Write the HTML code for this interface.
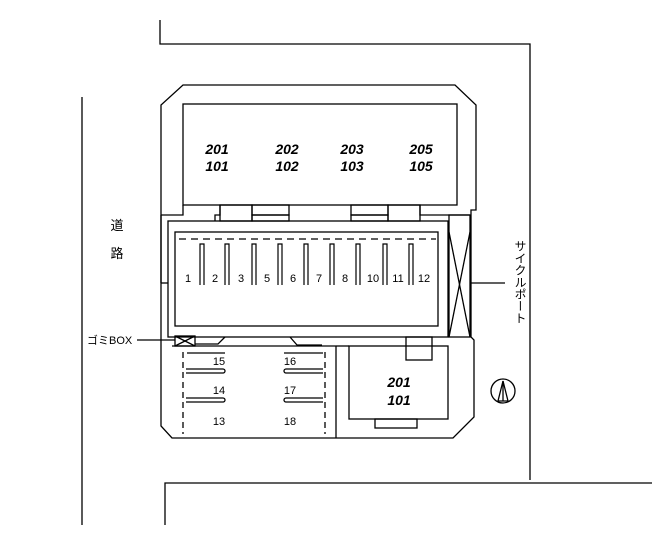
<!DOCTYPE html>
<html><head><meta charset="utf-8"><style>body{margin:0;background:#fff}svg{display:block}</style></head><body>
<svg width="652" height="551" viewBox="0 0 652 551" xmlns="http://www.w3.org/2000/svg" font-family="Liberation Sans, Noto Sans CJK JP, sans-serif">
<g fill="none" stroke="#000" stroke-width="1.3">
<polyline points="160,20 160,44 530,44 530,480"/>
<polyline points="165,525 165,483 652,483"/>
<line x1="82" y1="97" x2="82" y2="525"/>
<polygon points="183,85 455,85 476,105 476,210 471,210 471,337 474,340 474,417 453,438 172,438 161,426 161,105"/>
<rect x="183" y="104" width="274" height="101"/>
<polyline points="183,205 183,215 161,215"/>
<polyline points="220,205 220,215 215,215 215,221"/>
<rect x="220" y="205" width="32" height="16"/>
<rect x="252" y="205" width="37" height="10"/>
<rect x="252" y="215" width="37" height="6"/>
<rect x="351" y="205" width="37" height="10"/>
<rect x="351" y="215" width="37" height="6"/>
<rect x="388" y="205" width="32" height="16"/>
<polyline points="420,205 420,215 470,215"/>
<rect x="168" y="221" width="280" height="116"/>
<rect x="175" y="232" width="263" height="94"/>
<line x1="161" y1="215" x2="161" y2="283"/>
<line x1="161" y1="283" x2="168" y2="283"/>
<rect x="449" y="215" width="21" height="122"/>
<line x1="449" y1="232" x2="470" y2="337"/><line x1="470" y1="232" x2="449" y2="337"/>
<line x1="470" y1="283" x2="505" y2="283"/>
<line x1="179" y1="239" x2="436" y2="239" stroke-dasharray="7,5"/>
<g stroke-width="1.2">
<path d="M200,285 V244 H204 V285"/><path d="M225,285 V244 H229 V285"/><path d="M252,285 V244 H256 V285"/>
<path d="M278,285 V244 H282 V285"/><path d="M304,285 V244 H308 V285"/><path d="M330,285 V244 H334 V285"/>
<path d="M356,285 V244 H360 V285"/><path d="M383,285 V244 H387 V285"/><path d="M409,285 V244 H413 V285"/>
</g>
<line x1="336" y1="346" x2="336" y2="438"/>
<line x1="172" y1="346" x2="336" y2="346"/>
<line x1="336" y1="346" x2="349" y2="346"/>
<line x1="183" y1="352" x2="183" y2="434" stroke-dasharray="6,4"/>
<line x1="325" y1="352" x2="325" y2="434" stroke-dasharray="6,4"/>
<polyline points="195,344 218,344 225,337"/>
<polyline points="290,337 297,345 322,345"/>
<path d="M187,353 H225"/><path d="M284,353 H323"/>
<path d="M186,373 H223 a2,2 0 0 0 0,-4 H186"/><path d="M323,373 H286 a2,2 0 0 1 0,-4 H323"/>
<path d="M186,402 H223 a2,2 0 0 0 0,-4 H186"/><path d="M323,402 H286 a2,2 0 0 1 0,-4 H323"/>
<rect x="349" y="346" width="99" height="73"/>
<rect x="406" y="337" width="26" height="23"/>
<rect x="375" y="419" width="42" height="9"/>
<rect x="175" y="336" width="20" height="10"/>
<line x1="175" y1="336" x2="195" y2="346"/><line x1="195" y1="336" x2="175" y2="346"/>
<line x1="137" y1="340" x2="175" y2="340"/>
<circle cx="503" cy="391" r="12"/>
<polygon points="503,381 498,401 508,401"/>
<line x1="503" y1="381" x2="503" y2="401"/>
</g>
<g font-size="14" font-weight="bold" font-style="italic" text-anchor="middle">
<text x="217" y="154">201</text><text x="217" y="171">101</text>
<text x="287" y="154">202</text><text x="287" y="171">102</text>
<text x="352" y="154">203</text><text x="352" y="171">103</text>
<text x="421" y="154">205</text><text x="421" y="171">105</text>
<text x="399" y="387">201</text><text x="399" y="405">101</text>
</g>
<g font-size="11" text-anchor="middle">
<text x="188" y="282">1</text><text x="215" y="282">2</text><text x="241" y="282">3</text>
<text x="267" y="282">5</text><text x="293" y="282">6</text><text x="319" y="282">7</text>
<text x="345" y="282">8</text><text x="373" y="282">10</text><text x="398" y="282">11</text><text x="424" y="282">12</text>
<text x="219" y="365">15</text><text x="219" y="394">14</text><text x="219" y="425">13</text>
<text x="290" y="365">16</text><text x="290" y="394">17</text><text x="290" y="425">18</text>
</g>
<text x="87" y="344" font-size="11">ゴミBOX</text>
<text x="117" y="230" font-size="13" text-anchor="middle">道</text>
<text x="117" y="258" font-size="13" text-anchor="middle">路</text>
<text x="520" y="240" font-size="12" style="writing-mode:vertical-rl" >サイクルポート</text>
</svg>
</body></html>
